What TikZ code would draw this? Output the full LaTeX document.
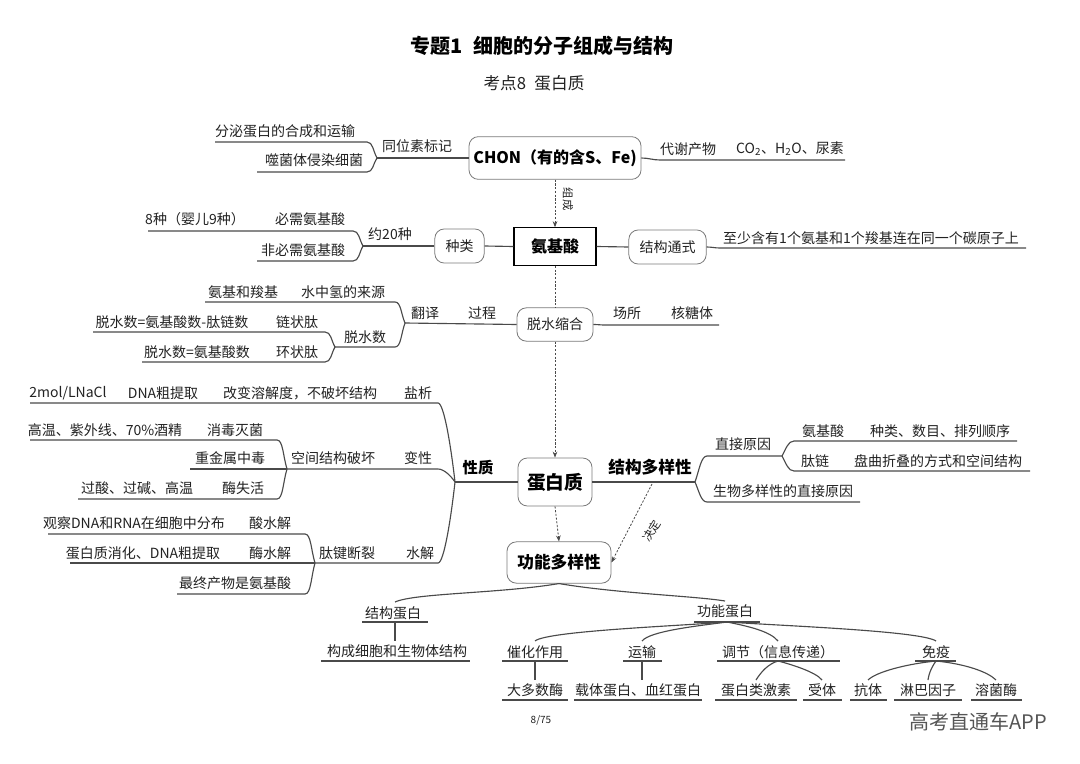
\documentclass[tikz,border=0pt]{standalone}
\usepackage{fontspec}
\setmainfont{Noto Sans CJK SC}
\usetikzlibrary{arrows.meta,calc}
\definecolor{ln}{HTML}{4A4A4A}
\definecolor{tx}{HTML}{222222}
\definecolor{bx}{HTML}{7A7A7A}
\definecolor{wmc}{HTML}{555555}
\newcommand\fsz[1]{\fontsize{#1}{#1}\selectfont}
\begin{document}
\begin{tikzpicture}[x=0.75pt,y=-0.75pt,
 br/.style={draw=ln,line width=0.85pt},
 dsh/.style={draw=ln,line width=0.6pt,dash pattern=on 1.6pt off 1.2pt},
 lbl/.style={font=\fsz{10.5},inner sep=0pt,text=tx},
 hdl/.style={font=\bfseries\fsz{12},inner sep=0pt,text=black},
 rbox/.style={draw=bx,line width=0.6pt,rounded corners=7pt,fill=white,inner sep=0pt,text=tx,font=\fsz{10.5}},
 tip/.style={-{Stealth[length=4.5pt,width=3.5pt]}}]
\fill[white] (0,0) rectangle (1080,763);
\useasboundingbox (0,0) rectangle (1080,763);

% titles
\node[font=\bfseries\fsz{15},inner sep=0pt,text=black] (title) at (542,46) {专题1\hspace{0.5em}细胞的分子组成与结构};
\node[font=\fsz{12.5},inner sep=0pt,text=tx] (sub) at (534,83) {考点8\hspace{0.5em}蛋白质};

% main boxes
\node[rbox,minimum width=129pt,minimum height=32pt,font=\bfseries\fsz{12},text=black] (chon) at (555,158) {CHON（有的含S、Fe)};
\node[rbox,minimum width=37pt,minimum height=25.5pt] (zl) at (459.5,246) {种类};
\node[draw=black,line width=0.9pt,minimum width=61.5pt,minimum height=28pt,inner sep=0pt,font=\bfseries\fsz{12},fill=white] (aa) at (555,246.5) {氨基酸};
\node[rbox,minimum width=58pt,minimum height=25.5pt] (jg) at (667.5,247) {结构通式};
\node[rbox,minimum width=57pt,minimum height=25pt] (tc) at (555,324.5) {脱水缩合};
\node[rbox,minimum width=55.5pt,minimum height=36pt,font=\bfseries\fsz{14},text=black] (dbz) at (555,482) {蛋白质};
\node[rbox,minimum width=78pt,minimum height=31pt,font=\bfseries\fsz{12.5},text=black] (gn) at (559,562.5) {功能多样性};

% vertical dashed arrows
\draw[dsh,tip] (chon.south) -- (aa.north);
\node[lbl,font=\fsz{8.5},rotate=-90] (zc) at (568,199) {组成};
\draw[dsh] (aa.south) -- (tc.north);
\draw[dsh,tip] (tc.south) -- (dbz.north);
\draw[dsh,tip] (dbz.south) -- (gn.north);

% ---- CHON left
\coordinate (f1) at (377,158);
\draw[br] (chon.west) -- (f1);
\draw[br] (215,142) -- (367,142) .. controls +(6,0) and +(-4,-7) .. (f1);
\draw[br] (257,172) -- (367,172) .. controls +(6,0) and +(-4,6) .. (f1);
\node[lbl] (l1) at (285,131) {分泌蛋白的合成和运输};
\node[lbl] (l2) at (314,160) {噬菌体侵染细菌};
\node[lbl] (l3) at (417,146) {同位素标记};
% ---- CHON right
\draw[br] (chon.east) to[out=0,in=180] (660,160) -- (845,160);
\node[lbl] (l4) at (688,149) {代谢产物};
\node[lbl] (l5) at (790,149) {CO\textsubscript{2}、H\textsubscript{2}O、尿素};

% ---- amino acid left
\coordinate (f2) at (363,246);
\draw[br] (aa.west) -- (zl.east);
\draw[br] (zl.west) -- (f2);
\draw[br] (148,231) -- (353,231) .. controls +(6,0) and +(-4,-7) .. (f2);
\draw[br] (257,261) -- (353,261) .. controls +(6,0) and +(-4,7) .. (f2);
\node[lbl] (l6) at (390,234) {约20种};
\node[lbl] (l7) at (195,219) {8种（婴儿9种）};
\node[lbl] (l8) at (310,219) {必需氨基酸};
\node[lbl] (l9) at (303,250) {非必需氨基酸};
% ---- amino acid right
\draw[br] (aa.east) -- (jg.west);
\draw[br] (jg.east) to[out=0,in=180] (720,248) -- (1026,248);
\node[lbl] (l10) at (871,238) {至少含有1个氨基和1个羧基连在同一个碳原子上};

% ---- dehydration right
\draw[br] (tc.east) to[out=0,in=180] (605,325) -- (719,325);
\node[lbl] (l11) at (627,313) {场所};
\node[lbl] (l12) at (692,313) {核糖体};
% ---- dehydration left
\coordinate (f3) at (405,323);
\coordinate (f4) at (335,347);
\draw[br] (tc.west) -- (f3);
\draw[br] (205,302) -- (395,302) .. controls +(6,0) and +(-4,-9) .. (f3);
\draw[br] (f4) -- (395,347) .. controls +(6,0) and +(-4,11) .. (f3);
\draw[br] (93,332) -- (325,332) .. controls +(6,0) and +(-4,-7) .. (f4);
\draw[br] (142,362) -- (325,362) .. controls +(6,0) and +(-4,7) .. (f4);
\node[lbl] (l13) at (425,313) {翻译};
\node[lbl] (l14) at (482,313) {过程};
\node[lbl] (l15) at (243,292) {氨基和羧基};
\node[lbl] (l16) at (343,292) {水中氢的来源};
\node[lbl] (l17) at (365,337) {脱水数};
\node[lbl] (l18) at (172,322) {脱水数=氨基酸数-肽链数};
\node[lbl] (l19) at (297,322) {链状肽};
\node[lbl] (l20) at (197,352) {脱水数=氨基酸数};
\node[lbl] (l21) at (297,352) {环状肽};

% ---- protein left (properties)
\coordinate (f5) at (455,482);
\coordinate (f6) at (287,469);
\coordinate (f7) at (315,563);
\draw[br] (dbz.west) -- (f5);
\node[hdl,font=\bfseries\fsz{11.5}] (xz) at (478,468) {性质};
\draw[br] (30,403) -- (438,403) .. controls +(6,0) and +(-4,-35) .. (f5);
\draw[br] (f6) -- (438,469) .. controls +(6,0) and +(-4,-6) .. (f5);
\draw[br] (f7) -- (438,563) .. controls +(6,0) and +(-4,36) .. (f5);
\node[lbl] (l22) at (68,393) {2mol/LNaCl};
\node[lbl] (l23) at (163,393) {DNA粗提取};
\node[lbl] (l24) at (300,393) {改变溶解度，不破坏结构};
\node[lbl] (l25) at (418,393) {盐析};
\node[lbl] (l26) at (333,458) {空间结构破坏};
\node[lbl] (l27) at (418,458) {变性};
\draw[br] (30,440) -- (277,440) .. controls +(6,0) and +(-4,-13) .. (f6);
\draw[br] (190,469) -- (f6);
\draw[br] (78,499) -- (277,499) .. controls +(6,0) and +(-4,13) .. (f6);
\node[lbl] (l28) at (105,430) {高温、紫外线、70\%酒精};
\node[lbl] (l29) at (235,430) {消毒灭菌};
\node[lbl] (l30) at (230,458) {重金属中毒};
\node[lbl] (l31) at (137,488) {过酸、过碱、高温};
\node[lbl] (l32) at (243,488) {酶失活};
\node[lbl] (l33) at (347,553) {肽键断裂};
\node[lbl] (l34) at (420,553) {水解};
\draw[br] (48,534) -- (305,534) .. controls +(6,0) and +(-4,-13) .. (f7);
\draw[br] (70,563) -- (f7);
\draw[br] (177,594) -- (305,594) .. controls +(6,0) and +(-4,14) .. (f7);
\node[lbl] (l35) at (134,523) {观察DNA和RNA在细胞中分布};
\node[lbl] (l36) at (270,523) {酸水解};
\node[lbl] (l37) at (143,553) {蛋白质消化、DNA粗提取};
\node[lbl] (l38) at (270,553) {酶水解};
\node[lbl] (l39) at (235,583) {最终产物是氨基酸};

% ---- protein right (structure diversity)
\coordinate (f8) at (695,482);
\coordinate (f9) at (782,456);
\draw[br] (dbz.east) -- (f8);
\node[hdl,font=\bfseries\fsz{12.5}] (jd) at (650,467) {结构多样性};
\draw[br] (f8) .. controls +(4,-11) and +(-6,0) .. (707,456) -- (f9);
\draw[br] (f8) .. controls +(4,9) and +(-6,0) .. (707,502) -- (860,502);
\draw[br] (f9) .. controls +(4,-7) and +(-6,0) .. (794,441) -- (1017,441);
\draw[br] (f9) .. controls +(4,7) and +(-6,0) .. (794,471) -- (1030,471);
\node[lbl] (l40) at (743,444) {直接原因};
\node[lbl] (l41) at (823,431) {氨基酸};
\node[lbl] (l42) at (940,431) {种类、数目、排列顺序};
\node[lbl] (l43) at (815,461) {肽链};
\node[lbl] (l44) at (938,461) {盘曲折叠的方式和空间结构};
\node[lbl] (l45) at (783,491) {生物多样性的直接原因};

% decides arrow
\coordinate (jdS) at (652,484);
\draw[dsh,tip] (jdS) -- (gn.east);
\node[lbl,font=\fsz{8.5},rotate=59] (jdl) at (652,531) {决定};

% ---- bottom tree
\node[lbl] (b1) at (393,613) {结构蛋白};
\node[lbl] (b2) at (725,611) {功能蛋白};
\node[lbl] (b3) at (397,651) {构成细胞和生物体结构};
\coordinate (b1t) at (395,602);
\coordinate (b2t) at (725,601);
\draw[br] (gn.south) .. controls +(-60,10) and +(20,-9) .. (b1t);
\draw[br] (gn.south) .. controls +(60,10) and +(-30,-5) .. (b2t);
\draw[br] (362,622) -- (428,622);
\draw[br] (395,622) -- (395,641);
\draw[br] (321,661) -- (470,661);
\draw[br] (694,622) -- (760,622);
\coordinate (gf) at (727,622);

\node[lbl] (c1) at (535,652) {催化作用};
\node[lbl] (c2) at (642,652) {运输};
\node[lbl] (c3) at (778,652) {调节（信息传递）};
\node[lbl] (c4) at (936,652) {免疫};
\draw[br] (gf) .. controls +(-50,4) and +(12,-10) .. (535,641);
\draw[br] (gf) .. controls +(-30,4) and +(8,-10) .. (642,641);
\draw[br] (gf) .. controls +(20,4) and +(-8,-10) .. (778,641);
\draw[br] (gf) .. controls +(60,4) and +(-15,-10) .. (936,641);
\draw[br] (502,661) -- (568,661);
\draw[br] (623,661) -- (662,661);
\draw[br] (717,661) -- (840,661);
\draw[br] (915,661) -- (956,661);
\draw[br] (535,661) -- (535,680);
\draw[br] (642,661) -- (642,680);
\coordinate (tj) at (778,661);
\coordinate (my) at (936,661);
\draw[br] (tj) .. controls +(-10,3) and +(5,-8) .. (756,680);
\draw[br] (tj) .. controls +(12,3) and +(-6,-8) .. (822,680);
\draw[br] (my) .. controls +(-30,3) and +(8,-8) .. (868,680);
\draw[br] (my) .. controls +(-3,4) and +(1,-8) .. (928,680);
\draw[br] (my) .. controls +(30,3) and +(-8,-8) .. (996,680);

\node[lbl] (d1) at (535,690) {大多数酶};
\node[lbl] (d2) at (638,690) {载体蛋白、血红蛋白};
\node[lbl] (d3) at (756,690) {蛋白类激素};
\node[lbl] (d4) at (822,690) {受体};
\node[lbl] (d5) at (868,690) {抗体};
\node[lbl] (d6) at (928,690) {淋巴因子};
\node[lbl] (d7) at (996,690) {溶菌酶};
\draw[br] (502,700) -- (568,700);
\draw[br] (574,700) -- (702,700);
\draw[br] (715,700) -- (797,700);
\draw[br] (803,700) -- (842,700);
\draw[br] (850,700) -- (887,700);
\draw[br] (894,700) -- (962,700);
\draw[br] (971,700) -- (1022,700);

% footer
\node[lbl,font=\fsz{7.5}] (pg) at (541,720) {8/75};
\node[inner sep=0pt,font=\fsz{15},text=wmc] (wm) at (978,722) {高考直通车APP};
\end{tikzpicture}
\end{document}
